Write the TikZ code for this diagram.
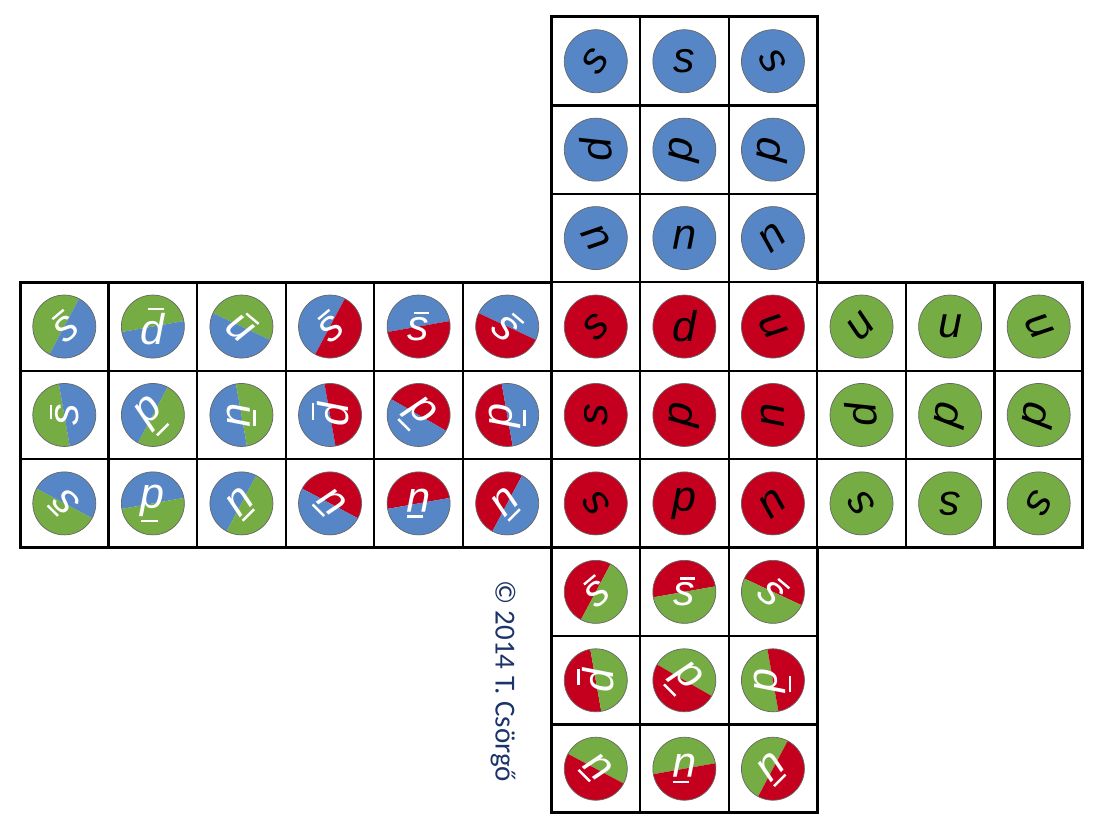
\documentclass[tikz,border=0pt]{standalone}
\usepackage{fontspec}
\setmainfont{Liberation Sans}
\newfontfamily\cpyfont{Carlito}
\definecolor{qblue}{RGB}{86,134,198}
\definecolor{qred}{RGB}{196,0,30}
\definecolor{qgreen}{RGB}{118,172,68}
\definecolor{cpycol}{RGB}{28,52,105}
\newcommand\qbar[1]{\setbox0=\hbox{#1}\vbox{\offinterlineskip\hbox to \wd0{\hskip0.3\wd0\vrule height 2.4pt depth 0pt width 0.68\wd0\hss}\kern 3pt\box0}}
\newcommand\solidball[5]{% col,row,color,letter,angle
  \pgfmathsetmacro\bx{20+88.58*(#1+0.5)}%
  \pgfmathsetmacro\by{820-88.44*(#2+0.5)}%
  \fill[#3] (\bx,\by) circle (31.5);
  \draw[ballrim] (\bx,\by) circle (31.5);
  \node[qletter, text=black, rotate=#5] (q-#2-#1) at (\bx,\by) {#4};
}
\newcommand\splitball[7]{% col,row,colA,colB,phi,letter,angle
  \pgfmathsetmacro\bx{20+88.58*(#1+0.5)}%
  \pgfmathsetmacro\by{820-88.44*(#2+0.5)}%
  \fill[#3] (\bx,\by) ++(#5:31.5) arc[start angle=#5, delta angle=180, radius=31.5] -- cycle;
  \fill[#4] (\bx,\by) ++(#5+180:31.5) arc[start angle=#5+180, delta angle=180, radius=31.5] -- cycle;
  \draw[ballrim] (\bx,\by) circle (31.5);
  \node[qletter, text=white, rotate=#7] (q-#2-#1) at (\bx,\by) {#6};
}
\begin{document}
\begin{tikzpicture}[x=1pt,y=1pt,
  qletter/.style={inner sep=0pt, font=\fontsize{43}{43}\selectfont\itshape},
  ballrim/.style={draw=black!60, line width=0.7pt},
  gridline/.style={line width=2.3pt, line cap=rect},
  outline/.style={line width=3pt, line cap=rect}]
\fill[white] (0,0) rectangle (1107,837);
\useasboundingbox (0,0) rectangle (1107,837);

% grid
\foreach \j in {0,...,3} \draw[gridline] (551.48,820-88.44*\j) -- (817.22,820-88.44*\j);
\foreach \k in {6,...,9} \draw[gridline] (20+88.58*\k,820) -- (20+88.58*\k,554.68);
\foreach \j in {3,...,6} \draw[gridline] (20,820-88.44*\j) -- (1082.96,820-88.44*\j);
\foreach \k in {0,...,12} \draw[gridline] (20+88.58*\k,554.68) -- (20+88.58*\k,289.36);
\foreach \j in {6,...,9} \draw[gridline] (551.48,820-88.44*\j) -- (817.22,820-88.44*\j);
\foreach \k in {6,...,9} \draw[gridline] (20+88.58*\k,289.36) -- (20+88.58*\k,24.04);
\draw[outline] (551.48,820) -- (817.22,820) -- (817.22,554.68) -- (1082.96,554.68) -- (1082.96,289.36)
  -- (817.22,289.36) -- (817.22,24.04) -- (551.48,24.04) -- (551.48,289.36) -- (20,289.36)
  -- (20,554.68) -- (551.48,554.68) -- cycle;

% top face (blue)
\solidball{6}{0}{qblue}{s}{55}
\solidball{7}{0}{qblue}{s}{0}
\solidball{8}{0}{qblue}{s}{-60}
\solidball{6}{1}{qblue}{d}{95}
\solidball{7}{1}{qblue}{d}{-95}
\solidball{8}{1}{qblue}{d}{-95}
\solidball{6}{2}{qblue}{u}{120}
\solidball{7}{2}{qblue}{u}{180}
\solidball{8}{2}{qblue}{u}{-140}

% red face
\solidball{6}{3}{qred}{s}{45}
\solidball{7}{3}{qred}{d}{0}
\solidball{8}{3}{qred}{u}{-60}
\solidball{6}{4}{qred}{s}{90}
\solidball{7}{4}{qred}{d}{-95}
\solidball{8}{4}{qred}{u}{-90}
\solidball{6}{5}{qred}{s}{125}
\solidball{7}{5}{qred}{d}{180}
\solidball{8}{5}{qred}{u}{-140}

% green face
\solidball{9}{3}{qgreen}{u}{45}
\solidball{10}{3}{qgreen}{u}{0}
\solidball{11}{3}{qgreen}{u}{-60}
\solidball{9}{4}{qgreen}{d}{95}
\solidball{10}{4}{qgreen}{d}{-100}
\solidball{11}{4}{qgreen}{d}{-100}
\solidball{9}{5}{qgreen}{s}{125}
\solidball{10}{5}{qgreen}{s}{180}
\solidball{11}{5}{qgreen}{s}{-120}

% blue/green face
\splitball{0}{3}{qgreen}{qblue}{62}{\qbar{s}}{40}
\splitball{1}{3}{qgreen}{qblue}{10}{\qbar{d}}{0}
\splitball{2}{3}{qgreen}{qblue}{-25}{\qbar{u}}{-40}
\splitball{0}{4}{qgreen}{qblue}{100}{\qbar{s}}{90}
\splitball{1}{4}{qblue}{qgreen}{62}{\qbar{d}}{-135}
\splitball{2}{4}{qblue}{qgreen}{100}{\qbar{u}}{-90}
\splitball{0}{5}{qblue}{qgreen}{-28}{\qbar{s}}{135}
\splitball{1}{5}{qblue}{qgreen}{10}{\qbar{d}}{180}
\splitball{2}{5}{qblue}{qgreen}{62}{\qbar{u}}{-135}

% blue/red face
\splitball{3}{3}{qblue}{qred}{62}{\qbar{s}}{40}
\splitball{4}{3}{qblue}{qred}{10}{\qbar{s}}{0}
\splitball{5}{3}{qblue}{qred}{-25}{\qbar{s}}{-40}
\splitball{3}{4}{qblue}{qred}{100}{\qbar{d}}{90}
\splitball{4}{4}{qred}{qblue}{-30}{\qbar{d}}{135}
\splitball{5}{4}{qred}{qblue}{100}{\qbar{d}}{-90}
\splitball{3}{5}{qred}{qblue}{-28}{\qbar{u}}{135}
\splitball{4}{5}{qred}{qblue}{10}{\qbar{u}}{180}
\splitball{5}{5}{qred}{qblue}{62}{\qbar{u}}{-135}

% red/green bottom face
\splitball{6}{6}{qred}{qgreen}{62}{\qbar{s}}{40}
\splitball{7}{6}{qred}{qgreen}{10}{\qbar{s}}{0}
\splitball{8}{6}{qred}{qgreen}{-25}{\qbar{s}}{-40}
\splitball{6}{7}{qred}{qgreen}{100}{\qbar{d}}{90}
\splitball{7}{7}{qgreen}{qred}{-30}{\qbar{d}}{135}
\splitball{8}{7}{qgreen}{qred}{100}{\qbar{d}}{-90}
\splitball{6}{8}{qgreen}{qred}{-28}{\qbar{u}}{135}
\splitball{7}{8}{qgreen}{qred}{10}{\qbar{u}}{180}
\splitball{8}{8}{qgreen}{qred}{62}{\qbar{u}}{-135}

\node[font=\cpyfont\fontsize{29}{29}\selectfont, text=cpycol, rotate=-90, inner sep=0pt] (copyright) at (503,156) {© 2014 T. Csörgő};
\end{tikzpicture}
\end{document}
